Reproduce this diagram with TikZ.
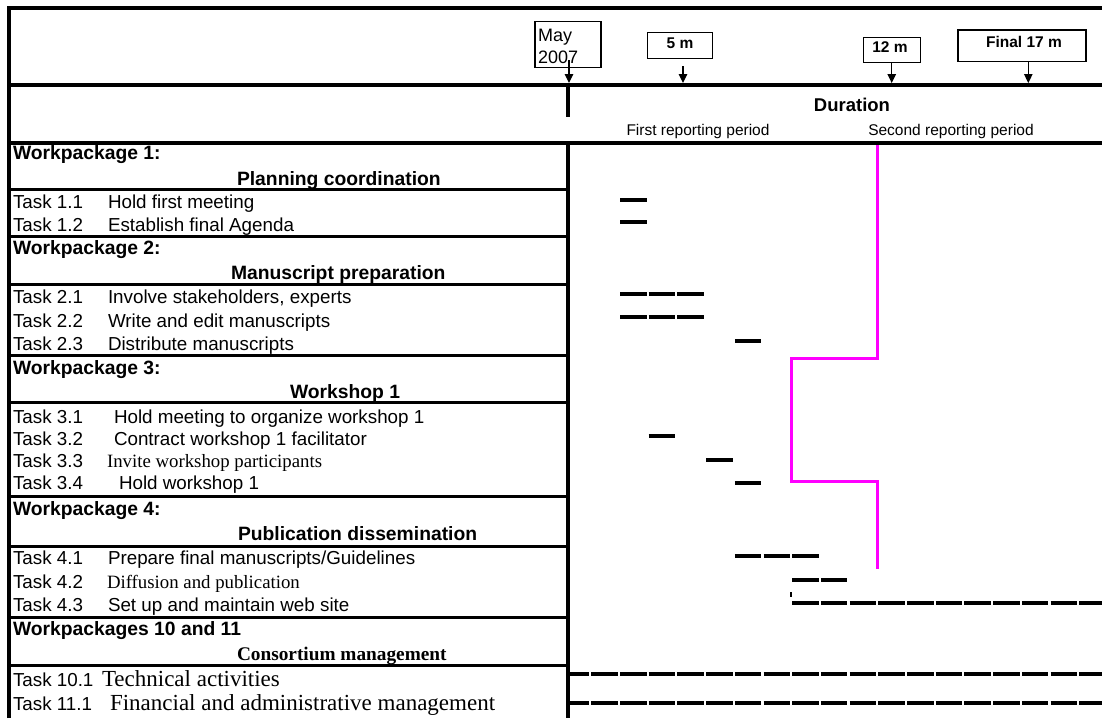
\documentclass[tikz,border=0pt]{standalone}
\usepackage{fontspec}
\setmainfont{Liberation Sans}
\newfontfamily\tnr{Liberation Serif}
\usetikzlibrary{arrows.meta}
\definecolor{pinkline}{RGB}{255,0,255}
\begin{document}
\begin{tikzpicture}[x=1pt,y=-1pt,
  every node/.style={inner sep=0pt,outer sep=0pt},
  frame/.style={line width=4.5pt},
  rowline/.style={line width=3pt},
  bar/.style={line width=3.5pt,dash pattern=on 26.5pt off 2.2pt},
  pinkpath/.style={draw=pinkline,line width=3pt,line join=miter},
  lbl/.style={anchor=base west,font=\fontsize{18.8}{22}\selectfont},
  slbl/.style={anchor=base west,font=\tnr\fontsize{18.8}{22}\selectfont},
  blbl/.style={anchor=base west,font=\tnr\fontsize{23}{26}\selectfont},
  head/.style={anchor=base west,font=\bfseries\fontsize{19.3}{22}\selectfont},
  subhead/.style={anchor=base west,font=\bfseries\fontsize{19.3}{22}\selectfont},
  shead/.style={anchor=base west,font=\tnr\bfseries\fontsize{19.3}{22}\selectfont},
  mbox/.style={draw,line width=1.3pt},
  boxtxt/.style={font=\bfseries\fontsize{15.5}{18}\selectfont},
  marrow/.style={line width=1.2pt,-{Triangle[width=8.5pt,length=9pt]}},
  period/.style={anchor=base,font=\fontsize{15.5}{18}\selectfont}]
\useasboundingbox (0,0) rectangle (1102,718);

% ---- milestone boxes ----
\node[mbox,minimum width=66pt,minimum height=45.5pt] (bmay) at (568,44.5) {};
\node[anchor=base west,font=\fontsize{18}{21}\selectfont] (tmay1) at (538,41.5) {May};
\node[anchor=base west,font=\fontsize{18}{21}\selectfont] (tmay2) at (538,63) {2007};
\node[mbox,minimum width=65.4pt,minimum height=25.6pt] (b5) at (680,45.5) {};
\node[boxtxt] (t5) at (680,43) {5 m};
\node[mbox,minimum width=57.4pt,minimum height=24.6pt] (b12) at (892,50) {};
\node[boxtxt] (t12) at (890,47) {12 m};
\node[mbox,minimum width=128pt,minimum height=31.7pt] (b17) at (1022,45.85) {};
\node[boxtxt] (t17) at (1024,41.7) {Final 17 m};

\coordinate (smay) at (569,60);   \coordinate (emay) at (569,83);
\coordinate (s5) at (683,66);     \coordinate (e5) at (683,83);
\coordinate (s12) at (891.7,62.3);\coordinate (e12) at (891.7,83);
\coordinate (s17) at (1028.3,61.7);\coordinate (e17) at (1028.3,83);
\draw[marrow] (smay) -- (emay);
\draw[marrow] (s5) -- (e5);
\draw[marrow] (s12) -- (e12);
\draw[marrow] (s17) -- (e17);

% ---- header texts ----
\node[anchor=base,font=\bfseries\fontsize{18.5}{22}\selectfont] (dur) at (852,111.6) {Duration};
\node[period] (p1) at (698,135.4) {First reporting period};
\node[period] (p2) at (951,135.4) {Second reporting period};

% ---- pink milestone line ----
\draw[pinkpath] (877,143) -- (877,358) -- (791,358) -- (791,481) -- (877,481) -- (877,569);

% ---- frame ----
\draw[frame,line join=miter] (9,718) -- (9,8) -- (1102,8);
\draw[frame] (7,85) -- (1102,85);
\draw[frame] (7,143) -- (1102,143);
\draw[frame] (568,85) -- (568,117);
\draw[frame] (568,143) -- (568,718);
\foreach \yy in {189,236,284,355,402,496,546,617,665}
  \draw[rowline] (9,\yy) -- (568,\yy);

% ---- left table texts ----
\node[head] (wp1) at (13,159.6) {Workpackage 1:};
\node[subhead] (h1) at (237,185.1) {Planning coordination};
\node[lbl] (k11) at (13,208.6) {Task 1.1};  \node[lbl] (d11) at (108,208.6) {Hold first meeting};
\node[lbl] (k12) at (13,231.6) {Task 1.2};  \node[lbl] (d12) at (108,231.6) {Establish final Agenda};

\node[head] (wp2) at (13,254.6) {Workpackage 2:};
\node[subhead] (h2) at (231,279.6) {Manuscript preparation};
\node[lbl] (k21) at (13,303.6) {Task 2.1};  \node[lbl] (d21) at (108,303.6) {Involve stakeholders, experts};
\node[lbl] (k22) at (13,327.6) {Task 2.2};  \node[lbl] (d22) at (108,327.6) {Write and edit manuscripts};
\node[lbl] (k23) at (13,350.6) {Task 2.3};  \node[lbl] (d23) at (108,350.6) {Distribute manuscripts};

\node[head] (wp3) at (13,374.6) {Workpackage 3:};
\node[subhead] (h3) at (290,398.6) {Workshop 1};
\node[lbl] (k31) at (13,423.6) {Task 3.1};  \node[lbl] (d31) at (114,423.6) {Hold meeting to organize workshop 1};
\node[lbl] (k32) at (13,445.6) {Task 3.2};  \node[lbl] (d32) at (114,445.6) {Contract workshop 1 facilitator};
\node[lbl] (k33) at (13,467.6) {Task 3.3};  \node[slbl] (d33) at (107,467.6) {Invite workshop participants};
\node[lbl] (k34) at (13,489.6) {Task 3.4};  \node[lbl] (d34) at (119,489.6) {Hold workshop 1};

\node[head] (wp4) at (13,515.6) {Workpackage 4:};
\node[subhead] (h4) at (238,540) {Publication dissemination};
\node[lbl] (k41) at (13,564.6) {Task 4.1};  \node[lbl] (d41) at (108,564.6) {Prepare final manuscripts/Guidelines};
\node[lbl] (k42) at (13,588.6) {Task 4.2};  \node[slbl] (d42) at (107,588.6) {Diffusion and publication};
\node[lbl] (k43) at (13,611) {Task 4.3};    \node[lbl] (d43) at (108,611) {Set up and maintain web site};

\node[head] (wp10) at (13,635) {Workpackages 10 and 11};
\node[shead] (h10) at (237,660.6) {Consortium management};
\node[lbl] (k101) at (13,686.6) {Task 10.1}; \node[blbl] (d101) at (102,686.6) {Technical activities};
\node[lbl] (k111) at (13,710.6) {Task 11.1}; \node[blbl] (d111) at (110,710.6) {Financial and administrative management};

% ---- gantt bars (month grid: 620 + 28.7 k) ----
\draw[bar] (620,200) -- (646.5,200);
\draw[bar] (620,222) -- (646.5,222);
\draw[bar] (620,294) -- (703.9,294);
\draw[bar] (620,317) -- (703.9,317);
\draw[bar] (734.8,341) -- (761.3,341);
\draw[bar] (648.7,436) -- (675.2,436);
\draw[bar] (706.1,460) -- (732.6,460);
\draw[bar] (734.8,483) -- (761.3,483);
\draw[bar] (734.8,556) -- (818.7,556);
\draw[bar] (792.2,580) -- (847.4,580);
\draw[line width=1.2pt] (791,592) -- (791,597);
\draw[bar] (792.2,603) -- (1102,603);
\draw[bar,dash phase=7.4pt] (570,674) -- (1102,674);
\draw[bar,dash phase=7.4pt] (570,703) -- (1102,703);
\end{tikzpicture}
\end{document}
